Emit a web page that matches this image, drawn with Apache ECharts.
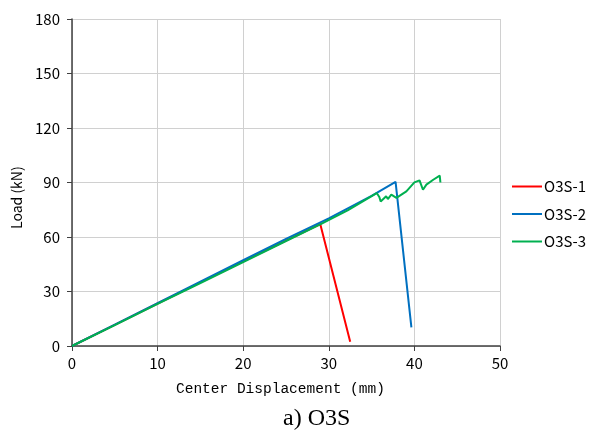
<!DOCTYPE html>
<html><head><meta charset="utf-8">
<script src="https://cdn.jsdelivr.net/npm/echarts@6/dist/echarts.min.js"></script>
<style>html,body{margin:0;padding:0;background:#fff}#c{width:590px;height:433px}</style>
</head><body><div id="c"></div>
<script>
const seriesNames = ['O3S-1', 'O3S-2', 'O3S-3'];
const o3s1 = [[0,0],[5,11.6],[10,23.4],[15,35.0],[20,46.6],[25,58.0],[29.0,67.1],[32.5,2.4]];
const o3s2 = [[0,0],[5,11.8],[10,23.6],[15,35.4],[20,47.2],[25,59.0],[30,70.3],[35,82.6],[37.8,90.3],[39.65,10.3]];
const o3s3 = [[0,0],[5,11.5],[10,23.2],[15,34.6],[20,46.2],[25,57.8],[29,67.0],[32.2,74.6],[35.6,84.2],[35.9,82.0],[36.06,79.6],[36.7,82.4],[36.9,80.9],[37.3,83.3],[37.9,81.5],[39.06,85.1],[40.0,90.1],[40.6,91.2],[40.8,90.8],[41.0,86.0],[41.4,88.8],[42.2,91.5],[42.96,93.75],[43.04,90.0]];
const xTicks = { min: 0, max: 50, interval: 10 };
const yTicks = { min: 0, max: 180, interval: 30 };
const colors = ['#ff0000', '#0070c0', '#00b050'];

const chart = echarts.init(document.getElementById('c'), null, { renderer: 'canvas' });
const tickFont = { fontFamily: 'Noto Sans CJK JP', fontSize: 15, color: '#000' };
chart.setOption({
  animation: false,
  grid: { left: 72, right: 90, top: 19, bottom: 87, containLabel: false },
  xAxis: {
    type: 'value', min: xTicks.min, max: xTicks.max, interval: xTicks.interval,
    axisLine: { show: true, lineStyle: { color: '#404040', width: 1.5 } },
    axisTick: { show: true, length: 5, lineStyle: { color: '#404040' } },
    splitLine: { show: true, lineStyle: { color: '#d0d0d0', width: 1 } },
    axisLabel: Object.assign({ margin: 10 }, tickFont)
  },
  yAxis: {
    type: 'value', min: yTicks.min, max: yTicks.max, interval: yTicks.interval,
    axisLine: { show: true, lineStyle: { color: '#404040', width: 1.5 } },
    axisTick: { show: true, length: 5, lineStyle: { color: '#404040' } },
    splitLine: { show: true, lineStyle: { color: '#d0d0d0', width: 1 } },
    axisLabel: Object.assign({ margin: 12 }, tickFont)
  },
  legend: {
    orient: 'vertical', left: 507, top: 174, itemWidth: 30, itemHeight: 14, itemGap: 12.5,
    icon: 'path://M0,6L30,6L30,8L0,8Z',
    textStyle: { fontFamily: 'Noto Sans CJK JP', fontSize: 15, color: '#000', padding: [0,0,0,-3] },
    data: seriesNames
  },
  series: [o3s1, o3s2, o3s3].map((d, i) => ({
    name: seriesNames[i], type: 'line', data: d, symbol: 'none',
    lineStyle: { color: colors[i], width: 2 }, itemStyle: { color: colors[i] }, z: 2 + i
  })),
  graphic: [
    { type: 'text', left: 176, top: 382, style: { text: 'Center Displacement (mm)', font: '14.5px "Liberation Mono", monospace', fill: '#000' } },
    { type: 'text', x: 10, y: 229, rotation: Math.PI / 2, style: { text: 'Load (kN)', font: '14px "Noto Sans CJK JP"', fill: '#000' } },
    { type: 'text', left: 283, top: 407, style: { text: 'a) O3S', font: '24px "Liberation Serif"', fill: '#000' } }
  ]
});
</script></body></html>
